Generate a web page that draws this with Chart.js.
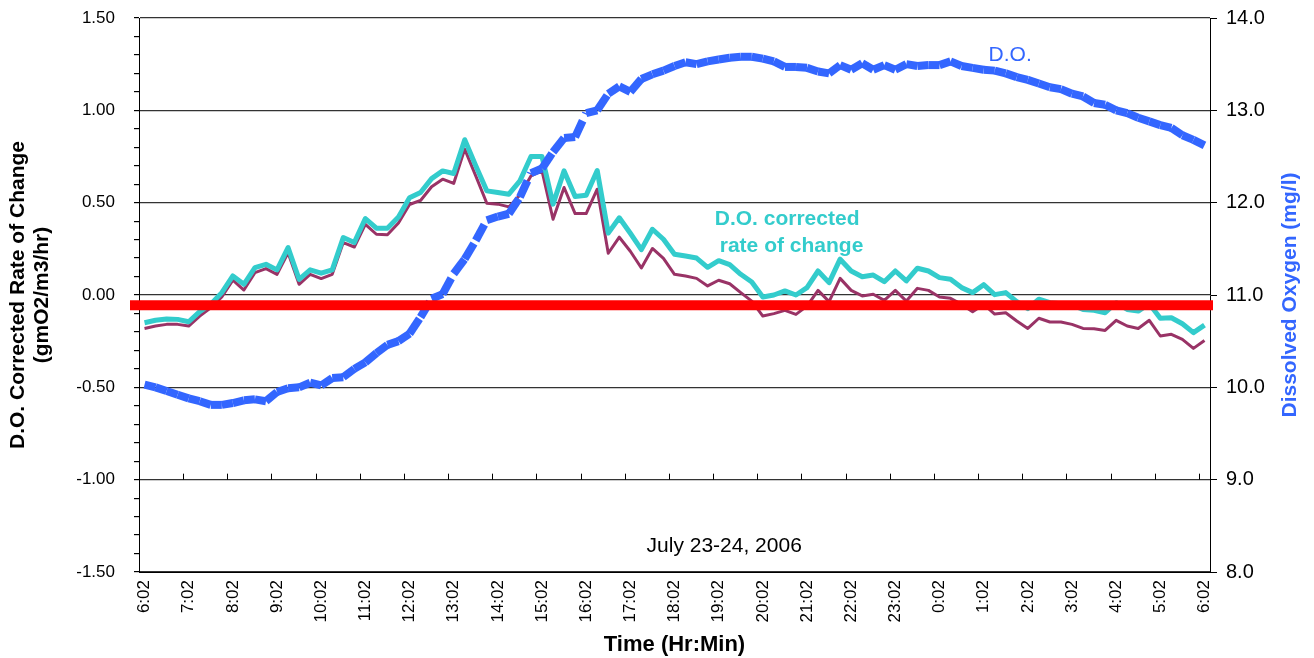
<!DOCTYPE html>
<html>
<head>
<meta charset="utf-8">
<script src="https://cdn.jsdelivr.net/npm/chart.js@4.4.1/dist/chart.umd.min.js"></script>
<style>
html, body { margin: 0; padding: 0; background: #fff; }
#wrap { width: 1314px; height: 658px; position: relative; }
</style>
</head>
<body>
<div id="wrap"><canvas id="chart"></canvas></div>
<script>
// hourly axis labels, readings every 15 minutes in between
const hourLabels = ['6:02','7:02','8:02','9:02','10:02','11:02','12:02','13:02','14:02','15:02','16:02','17:02',
  '18:02','19:02','20:02','21:02','22:02','23:02','0:02','1:02','2:02','3:02','4:02','5:02','6:02'];
const minuteSteps = ['02','17','32','47'];

// D.O. corrected rate of change (gmO2/m3/hr)
const rateCorrected = [-0.150, -0.137, -0.130, -0.132, -0.145, -0.090, -0.050, 0.013, 0.103, 0.058,
  0.148, 0.166, 0.136, 0.257, 0.085, 0.136, 0.118, 0.136, 0.311, 0.284,
  0.414, 0.362, 0.362, 0.423, 0.526, 0.555, 0.630, 0.672, 0.658, 0.841,
  0.700, 0.564, 0.555, 0.546, 0.618, 0.750, 0.750, 0.492, 0.672, 0.533,
  0.540, 0.674, 0.335, 0.418, 0.334, 0.246, 0.356, 0.302, 0.221, 0.211,
  0.200, 0.150, 0.186, 0.164, 0.112, 0.070, -0.011, 0.000, 0.022, 0.000,
  0.040, 0.130, 0.067, 0.194, 0.130, 0.099, 0.108, 0.072, 0.130, 0.076,
  0.145, 0.130, 0.094, 0.085, 0.040, 0.013, 0.056, 0.002, 0.013, -0.036,
  -0.074, -0.023, -0.042, -0.047, -0.054, -0.078, -0.083, -0.096, -0.042, -0.078,
  -0.087, -0.047, -0.126, -0.123, -0.156, -0.204, -0.163];

// uncorrected rate of change
const rateRaw = [-0.181, -0.168, -0.159, -0.159, -0.168, -0.114, -0.069, -0.011, 0.080, 0.027,
  0.121, 0.143, 0.112, 0.229, 0.058, 0.112, 0.089, 0.112, 0.284, 0.260,
  0.383, 0.329, 0.326, 0.390, 0.490, 0.512, 0.586, 0.627, 0.604, 0.790,
  0.645, 0.497, 0.492, 0.477, 0.542, 0.645, 0.672, 0.410, 0.582, 0.441,
  0.441, 0.573, 0.226, 0.313, 0.237, 0.146, 0.252, 0.198, 0.112, 0.103,
  0.090, 0.049, 0.080, 0.061, 0.013, -0.033, -0.114, -0.101, -0.083, -0.105,
  -0.060, 0.025, -0.036, 0.090, 0.025, -0.005, 0.004, -0.029, 0.025, -0.033,
  0.036, 0.025, -0.011, -0.018, -0.051, -0.090, -0.051, -0.103, -0.096, -0.141,
  -0.181, -0.126, -0.146, -0.146, -0.159, -0.181, -0.183, -0.192, -0.137, -0.168,
  -0.181, -0.137, -0.222, -0.213, -0.240, -0.289, -0.246];

// dissolved oxygen (mg/l), right axis
const dissolvedOxygen = [10.03, 10.00, 9.96, 9.92, 9.88, 9.85, 9.81, 9.81, 9.83, 9.86,
  9.87, 9.85, 9.95, 9.99, 10.00, 10.05, 10.02, 10.10, 10.11, 10.20,
  10.27, 10.37, 10.46, 10.50, 10.58, 10.76, 10.96, 11.01, 11.23, 11.39,
  11.59, 11.81, 11.85, 11.88, 12.06, 12.32, 12.37, 12.55, 12.70, 12.71,
  12.97, 13.00, 13.18, 13.26, 13.20, 13.34, 13.39, 13.43, 13.48, 13.52,
  13.50, 13.53, 13.55, 13.57, 13.58, 13.58, 13.56, 13.53, 13.47, 13.47,
  13.46, 13.42, 13.40, 13.49, 13.44, 13.51, 13.44, 13.49, 13.44, 13.50,
  13.48, 13.49, 13.49, 13.53, 13.48, 13.46, 13.44, 13.43, 13.40, 13.36,
  13.33, 13.29, 13.25, 13.23, 13.18, 13.15, 13.08, 13.06, 13.00, 12.97,
  12.92, 12.88, 12.84, 12.81, 12.73, 12.68, 12.62];

const redLevel = -0.055;

let times = [];
hourLabels.forEach((h, i) => {
  const hr = h.split(':')[0];
  if (i < hourLabels.length - 1) {
    minuteSteps.forEach(m => times.push(hr + ':' + m));
  } else {
    times.push(h);
  }
});

const isMajor = v => Math.abs(v * 2 - Math.round(v * 2)) < 1e-6;

const FAMILY = 'Arial, "Liberation Sans", sans-serif';
Chart.defaults.font.family = FAMILY;
Chart.defaults.color = '#000';

const overlay = {
  id: 'overlay',
  afterDatasetsDraw(chart) {
    const {ctx, chartArea, scales: {x, y, y1}} = chart;
    ctx.save();

    // red reference line
    const ry = y.getPixelForValue(redLevel);
    ctx.strokeStyle = '#FF0000';
    ctx.lineWidth = 10;
    ctx.beginPath();
    ctx.moveTo(chartArea.left - 9, ry);
    ctx.lineTo(chartArea.right + 3, ry);
    ctx.stroke();

    // hour tick marks sitting on the -1.00 line
    const ty = y.getPixelForValue(-1);
    ctx.strokeStyle = '#000';
    ctx.lineWidth = 1;
    for (let k = 1; k < hourLabels.length; k++) {
      const px = Math.round(x.getPixelForValue(k * 4 - 0.5)) + 0.5;
      ctx.beginPath();
      ctx.moveTo(px, ty);
      ctx.lineTo(px, ty - 6);
      ctx.stroke();
    }

    // text labels
    ctx.textAlign = 'center';
    ctx.textBaseline = 'middle';
    ctx.fillStyle = '#3366FF';
    ctx.font = '21px ' + FAMILY;
    ctx.fillText('D.O.', x.getPixelForValue(78.4), y1.getPixelForValue(13.6));

    ctx.fillStyle = '#33CCCC';
    ctx.font = 'bold 21px ' + FAMILY;
    ctx.fillText('D.O. corrected', x.getPixelForValue(58.2), y.getPixelForValue(0.412));
    ctx.fillText('rate of change', x.getPixelForValue(58.6), y.getPixelForValue(0.266));

    ctx.fillStyle = '#000';
    ctx.font = '21px ' + FAMILY;
    ctx.fillText('July 23-24, 2006', x.getPixelForValue(52.5), y.getPixelForValue(-1.361));

    // right axis title, reading bottom to top
    ctx.save();
    ctx.translate(1290, (chartArea.top + chartArea.bottom) / 2);
    ctx.rotate(-Math.PI / 2);
    ctx.fillStyle = '#3366FF';
    ctx.font = 'bold 21px ' + FAMILY;
    ctx.fillText('Dissolved Oxygen (mg/l)', 0, 0);
    ctx.restore();

    ctx.restore();
  }
};

new Chart(document.getElementById('chart'), {
  type: 'line',
  data: {
    labels: times,
    datasets: [
      {
        label: 'D.O.',
        data: dissolvedOxygen,
        yAxisID: 'y1',
        borderColor: '#3366FF',
        borderWidth: 8,
        borderCapStyle: 'butt',
        borderDash: [18, 7],
        pointRadius: 0,
        tension: 0,
        order: 0,
        segment: {
          // restart the dash pattern on every segment
          borderDashOffset: ctx => ctx.p0DataIndex % 2 ? 0.001 : 0
        }
      },
      {
        label: 'D.O. corrected rate of change',
        data: rateCorrected,
        yAxisID: 'y',
        borderColor: '#33CCCC',
        borderWidth: 5,
        borderJoinStyle: 'round',
        pointRadius: 0,
        tension: 0,
        order: 1
      },
      {
        label: 'Rate of change',
        data: rateRaw,
        yAxisID: 'y',
        borderColor: '#993366',
        borderWidth: 3,
        borderJoinStyle: 'round',
        pointRadius: 0,
        tension: 0,
        order: 2
      }
    ]
  },
  options: {
    responsive: true,
    maintainAspectRatio: false,
    animation: false,
    layout: { padding: { top: 18, left: 0, right: 0, bottom: 0 } },
    plugins: {
      legend: { display: false },
      tooltip: { enabled: false }
    },
    scales: {
      x: {
        offset: true,
        grid: { display: false, drawTicks: false },
        border: { color: '#000', width: 1 },
        ticks: {
          autoSkip: false,
          maxRotation: 90,
          minRotation: 90,
          padding: 8,
          font: { size: 17 },
          callback: (v, i) => i % 4 === 0 ? times[i] : ''
        },
        title: {
          display: true,
          text: 'Time (Hr:Min)',
          font: { size: 22, weight: 'bold', lineHeight: 1 },
          padding: { top: 0, bottom: 2 }
        },
        afterFit: s => { s.height = 86; }
      },
      y: {
        position: 'left',
        min: -1.5,
        max: 1.5,
        ticks: {
          stepSize: 0.1,
          autoSkip: false,
          padding: 19,
          font: { size: 17 },
          callback: v => isMajor(v) ? v.toFixed(2) : ''
        },
        grid: {
          color: ctx => isMajor(ctx.tick.value) ? '#333' : 'rgba(0,0,0,0)',
          tickColor: '#000',
          tickLength: 5,
          lineWidth: 1.2
        },
        border: { color: '#000', width: 1 },
        title: {
          display: true,
          text: ['D.O. Corrected Rate of Change', '(gmO2/m3/hr)'],
          font: { size: 21, weight: 'bold', lineHeight: 1.14 },
          padding: { top: 6, bottom: 0 }
        },
        afterFit: s => { s.width = 139; s.paddingTop = 0; s.paddingBottom = 0; }
      },
      y1: {
        position: 'right',
        min: 8,
        max: 14,
        ticks: {
          stepSize: 1,
          padding: 9,
          font: { size: 20 },
          callback: v => v.toFixed(1)
        },
        grid: { drawOnChartArea: false, tickColor: '#000', tickLength: 7 },
        border: { color: '#000', width: 1 },
        afterFit: s => { s.width = 104; s.paddingTop = 0; s.paddingBottom = 0; }
      }
    }
  },
  plugins: [overlay]
});
</script>
</body>
</html>
